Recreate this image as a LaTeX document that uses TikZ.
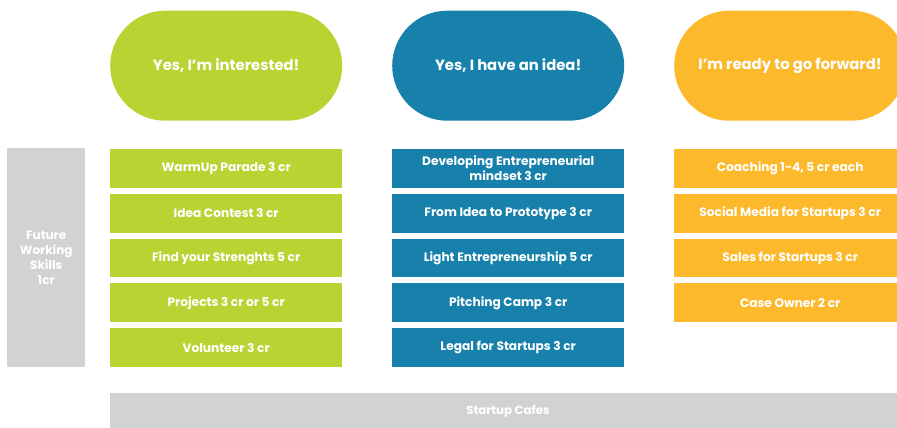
\documentclass[tikz,border=0pt]{standalone}
\usepackage{fontspec}
\setmainfont{Poppins}
\definecolor{cgreen}{HTML}{B8D433}
\definecolor{cblue}{HTML}{1781AB}
\definecolor{corange}{HTML}{FDB92C}
\definecolor{cgray}{HTML}{D1D2D4}
\tikzset{
  pilltext/.style={text=white, font=\bfseries\fontsize{14.8}{16}\selectfont},
  pill/.style={fill=#1, draw=none, rounded corners=55pt, minimum height=110pt, pilltext, inner sep=0pt},
  course/.style={fill=#1, draw=none, minimum width=232pt, minimum height=38.7pt, text=white, font=\bfseries\fontsize{12.2}{15}\selectfont, align=center, inner sep=0pt, anchor=north west},
  graybox/.style={fill=cgray, draw=none, text=white, font=\bfseries\fontsize{12}{15}\selectfont, align=center, inner sep=0pt}
}
\begin{document}
\begin{tikzpicture}[x=1pt,y=-1pt]
\useasboundingbox (0,0) rectangle (897,428);
\clip (0,0) rectangle (897,428);
% pills
\node[pill=cgreen, minimum width=232pt, anchor=north west] (p1) at (110,10.5) {Yes, I'm interested!};
\node[pill=cblue, minimum width=232pt, anchor=north west] (p2) at (392,10.5) {Yes, I have an idea!};
\node[pill=corange, minimum width=232pt, anchor=north west] (p3) at (674,10.5) {};
\node[pilltext] (p3t) at (790,65.5) {I'm ready to go forward!};
% left gray
\node[graybox, minimum width=78pt, minimum height=219pt, anchor=north west] (fws) at (7,148) {Future\\Working\\Skills\\1cr};
% green column
\node[course=cgreen] (g1) at (110,149) {WarmUp Parade 3 cr};
\node[course=cgreen] (g2) at (110,193.75) {Idea Contest 3 cr};
\node[course=cgreen] (g3) at (110,238.5) {Find your Strenghts 5 cr};
\node[course=cgreen] (g4) at (110,283.25) {Projects 3 cr or 5 cr};
\node[course=cgreen] (g5) at (110,328) {Volunteer 3 cr};
% blue column
\node[course=cblue] (b1) at (392,149) {Developing Entrepreneurial\\mindset 3 cr};
\node[course=cblue] (b2) at (392,193.75) {From Idea to Prototype 3 cr};
\node[course=cblue] (b3) at (392,238.5) {Light Entrepreneurship 5 cr};
\node[course=cblue] (b4) at (392,283.25) {Pitching Camp 3 cr};
\node[course=cblue] (b5) at (392,328) {Legal for Startups 3 cr};
% orange column
\node[course=corange] (o1) at (674,149) {Coaching 1-4, 5 cr each};
\node[course=corange] (o2) at (674,193.75) {Social Media for Startups 3 cr};
\node[course=corange] (o3) at (674,238.5) {Sales for Startups 3 cr};
\node[course=corange] (o4) at (674,283.25) {Case Owner 2 cr};
% bottom bar
\node[graybox, minimum width=800pt, minimum height=36pt, anchor=north west] (sc) at (110,393) {};
\node[text=white, font=\bfseries\fontsize{11.8}{14}\selectfont] (sct) at (508,411) {Startup Cafes};
\end{tikzpicture}
\end{document}
